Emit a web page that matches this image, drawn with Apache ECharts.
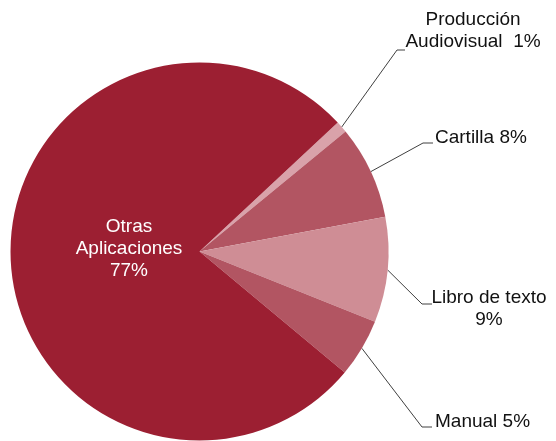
<!DOCTYPE html>
<html>
<head>
<meta charset="utf-8">
<script src="https://cdn.jsdelivr.net/npm/echarts@6/dist/echarts.min.js"></script>
<style>
html,body{margin:0;padding:0;background:#fff;}
#chart{width:556px;height:441px;}
</style>
</head>
<body>
<div id="chart"></div>
<script>
// Data
const categories = ['Producción Audiovisual', 'Cartilla', 'Libro de texto', 'Manual', 'Otras Aplicaciones'];
const values = [1, 8, 9, 5, 77];
const labelTexts = ['Producción\nAudiovisual  1%', 'Cartilla 8%', 'Libro de texto\n9%', 'Manual 5%', 'Otras\nAplicaciones\n77%'];

// Styles
const colors = ['#d9a2aa', '#b25562', '#cf8d95', '#b25562', '#9c1f32'];
const labelPlacement = [
  {x: 473, y: 31, align: 'center', elbow: [397, 50], end: [405, 50]},
  {x: 435, y: 138, align: 'left', elbow: [423, 143], end: [433, 143]},
  {x: 489, y: 309, align: 'center', elbow: [422, 304], end: [432, 304]},
  {x: 435, y: 422, align: 'left', elbow: [422, 427], end: [432, 427]},
  {x: 129, y: 249, align: 'center'}
];

const chart = echarts.init(document.getElementById('chart'), null, {renderer: 'canvas'});
const data = categories.map((name, i) => {
  const item = {name: name, value: values[i], itemStyle: {color: colors[i]}};
  if (i === 4) {
    item.label = {color: '#ffffff'};
    item.labelLine = {show: false};
  }
  return item;
});

chart.setOption({
  animation: false,
  backgroundColor: '#ffffff',
  series: [{
    type: 'pie',
    center: [199.5, 251.5],
    radius: 189,
    startAngle: 43,
    clockwise: true,
    avoidLabelOverlap: false,
    data: data,
    label: {
      show: true,
      position: 'outside',
      formatter: p => labelTexts[p.dataIndex],
      fontFamily: 'Liberation Sans, Arial, sans-serif',
      fontSize: 19,
      lineHeight: 22,
      color: '#111111'
    },
    labelLine: {
      show: true,
      lineStyle: {color: '#404040', width: 1}
    },
    labelLayout: function (params) {
      const lp = labelPlacement[params.dataIndex];
      const res = {x: lp.x, y: lp.y, align: lp.align, verticalAlign: 'middle'};
      if (lp.elbow && params.labelLinePoints) {
        res.labelLinePoints = [params.labelLinePoints[0], lp.elbow, lp.end];
      }
      return res;
    },
    emphasis: {disabled: true}
  }]
});
</script>
</body>
</html>
